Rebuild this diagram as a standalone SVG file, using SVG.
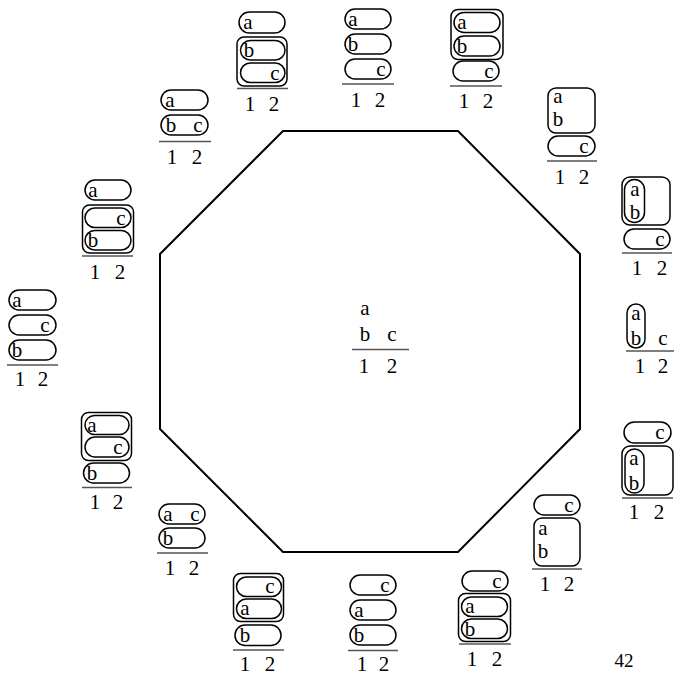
<svg xmlns="http://www.w3.org/2000/svg" width="674" height="676" viewBox="0 0 674 676">
<style>
rect{fill:none;stroke:#000;stroke-width:1.5}
line{stroke:#555;stroke-width:1.3}
text{font-family:"Liberation Serif","Times New Roman",serif;font-size:21px;text-anchor:middle;fill:#000}
.oct{fill:none;stroke:#000;stroke-width:2;stroke-linejoin:miter}
</style>
<g id="octagon">
<polygon class="oct" points="283,131 458,131 580,254 580,429 458,552 283,552 160,429 160,254"/>
</g>
<g id="center">
<text x="365" y="315">a</text><text x="365" y="341">b</text><text x="392" y="341">c</text>
<line x1="352" y1="349.5" x2="409" y2="349.5"/>
<text x="364" y="373">1</text><text x="392" y="373">2</text>
</g>
<g id="n1">
<rect x="345" y="9" width="46" height="20" rx="10"/>
<rect x="345" y="34" width="46" height="20" rx="10"/>
<rect x="345" y="59" width="46" height="20" rx="10"/>
<text x="353" y="26">a</text><text x="353" y="51">b</text><text x="381" y="76">c</text>
<line x1="342" y1="84" x2="394" y2="84"/>
<text x="356" y="107">1</text><text x="380" y="107">2</text>
</g>
<g id="n2">
<rect x="451" y="9.5" width="52" height="50" rx="7"/>
<rect x="454" y="12.5" width="46" height="20" rx="10"/>
<rect x="454" y="36" width="46" height="20" rx="10"/>
<rect x="453" y="61" width="46" height="20" rx="10"/>
<text x="462" y="29">a</text><text x="462" y="53">b</text><text x="489" y="78">c</text>
<line x1="450" y1="86" x2="502" y2="86"/>
<text x="464" y="108">1</text><text x="488" y="108">2</text>
</g>
<g id="n3">
<rect x="548" y="88" width="47" height="45" rx="8"/>
<text x="558" y="103">a</text><text x="558" y="126">b</text>
<rect x="548" y="136" width="47" height="20" rx="10"/>
<text x="584" y="153">c</text>
<line x1="547" y1="161" x2="597" y2="161"/>
<text x="560" y="184">1</text><text x="584" y="184">2</text>
</g>
<g id="n4">
<rect x="622" y="177" width="48" height="48" rx="8"/>
<rect x="624.5" y="179.5" width="20" height="43" rx="10"/>
<text x="635" y="196">a</text><text x="635" y="219">b</text>
<rect x="624" y="229" width="46" height="20" rx="10"/>
<text x="660" y="246">c</text>
<line x1="622" y1="253" x2="672" y2="253"/>
<text x="637" y="275">1</text><text x="662" y="275">2</text>
</g>
<g id="n5">
<rect x="627" y="304" width="18" height="44" rx="9"/>
<text x="636" y="320">a</text><text x="636" y="345">b</text><text x="663" y="345">c</text>
<line x1="626" y1="351" x2="674" y2="351"/>
<text x="640" y="373">1</text><text x="663" y="373">2</text>
</g>
<g id="n6">
<rect x="624" y="422" width="47" height="21" rx="10.5"/>
<text x="660" y="439">c</text>
<rect x="622" y="446" width="51" height="49" rx="8"/>
<rect x="625" y="449" width="19" height="44" rx="9.5"/>
<text x="634" y="465">a</text><text x="634" y="490">b</text>
<line x1="622" y1="498" x2="673" y2="498"/>
<text x="634" y="519">1</text><text x="659" y="519">2</text>
</g>
<g id="n7">
<rect x="534" y="495" width="46" height="20" rx="10"/>
<text x="569" y="512">c</text>
<rect x="534" y="518" width="46" height="48" rx="8"/>
<text x="543" y="535">a</text><text x="543" y="558">b</text>
<line x1="532" y1="569" x2="582" y2="569"/>
<text x="545" y="591">1</text><text x="569" y="591">2</text>
</g>
<g id="n8">
<rect x="462" y="571" width="46" height="20" rx="10"/>
<text x="497" y="588">c</text>
<rect x="458.5" y="593.5" width="52" height="48" rx="7"/>
<rect x="461.5" y="597" width="46" height="19.5" rx="9.75"/>
<rect x="461.5" y="619" width="46" height="19.5" rx="9.75"/>
<text x="470" y="613">a</text><text x="470" y="636">b</text>
<line x1="459" y1="644" x2="511" y2="644"/>
<text x="472" y="666">1</text><text x="497" y="666">2</text>
</g>
<g id="n9">
<rect x="350" y="575" width="46" height="20" rx="10"/>
<rect x="350" y="600" width="46" height="20" rx="10"/>
<rect x="350" y="625" width="46" height="20" rx="10"/>
<text x="385" y="592">c</text><text x="359" y="617">a</text><text x="359" y="642">b</text>
<line x1="348" y1="650.5" x2="398" y2="650.5"/>
<text x="362" y="671">1</text><text x="384" y="671">2</text>
</g>
<g id="n10">
<rect x="233.5" y="573.5" width="50" height="48" rx="7"/>
<rect x="236.5" y="577" width="45" height="19.5" rx="9.75"/>
<rect x="236.5" y="599" width="45" height="19.5" rx="9.75"/>
<rect x="235" y="625" width="46" height="20.5" rx="10"/>
<text x="270" y="593">c</text><text x="245" y="615">a</text><text x="245" y="642">b</text>
<line x1="233" y1="650" x2="284" y2="650"/>
<text x="245" y="671">1</text><text x="270" y="671">2</text>
</g>
<g id="n11">
<rect x="159" y="504" width="46" height="20" rx="10"/>
<rect x="159" y="528" width="46" height="20" rx="10"/>
<text x="168" y="521">a</text><text x="195" y="521">c</text><text x="168" y="545">b</text>
<line x1="157" y1="553" x2="208" y2="553"/>
<text x="170" y="575">1</text><text x="194" y="575">2</text>
</g>
<g id="n12">
<rect x="81.5" y="412.5" width="50" height="48" rx="7"/>
<rect x="85" y="415.5" width="44" height="19" rx="9.5"/>
<rect x="85" y="437" width="44" height="20" rx="10"/>
<rect x="83.5" y="463" width="46" height="20" rx="10"/>
<text x="92" y="432">a</text><text x="118" y="454">c</text><text x="92" y="480">b</text>
<line x1="82" y1="487.5" x2="132" y2="487.5"/>
<text x="95" y="509">1</text><text x="118" y="509">2</text>
</g>
<g id="n13">
<rect x="9" y="290" width="47" height="20" rx="10"/>
<rect x="9" y="315" width="47" height="20" rx="10"/>
<rect x="9" y="340" width="47" height="20" rx="10"/>
<text x="17" y="307">a</text><text x="45" y="332">c</text><text x="17" y="357">b</text>
<line x1="7" y1="365" x2="58" y2="365"/>
<text x="20" y="386">1</text><text x="43" y="386">2</text>
</g>
<g id="n14">
<rect x="85" y="180" width="46" height="20" rx="10"/>
<rect x="82.5" y="205" width="51" height="48" rx="7"/>
<rect x="85" y="208" width="46" height="19.5" rx="9.75"/>
<rect x="85" y="230.5" width="46" height="19.5" rx="9.75"/>
<text x="93" y="197">a</text><text x="121" y="225">c</text><text x="93" y="247">b</text>
<line x1="82" y1="256" x2="133" y2="256"/>
<text x="95" y="279">1</text><text x="120" y="279">2</text>
</g>
<g id="n15">
<rect x="161" y="90" width="47" height="20" rx="10"/>
<rect x="161" y="115" width="47" height="20" rx="10"/>
<text x="170" y="107">a</text><text x="171" y="132">b</text><text x="198" y="132">c</text>
<line x1="159" y1="141.5" x2="211" y2="141.5"/>
<text x="172" y="164">1</text><text x="197" y="164">2</text>
</g>
<g id="n16">
<rect x="239" y="12" width="46" height="21" rx="10.5"/>
<rect x="237" y="37" width="50" height="49" rx="7"/>
<rect x="240.5" y="40.5" width="44.5" height="19.5" rx="9.75"/>
<rect x="240.5" y="63" width="44.5" height="19.5" rx="9.75"/>
<text x="248" y="29">a</text><text x="249" y="57">b</text><text x="275" y="80">c</text>
<line x1="237" y1="88.5" x2="288" y2="88.5"/>
<text x="250" y="111">1</text><text x="274" y="111">2</text>
</g>
<g id="page">
<text x="624" y="667" style="font-size:19px">42</text>
</g>
</svg>
